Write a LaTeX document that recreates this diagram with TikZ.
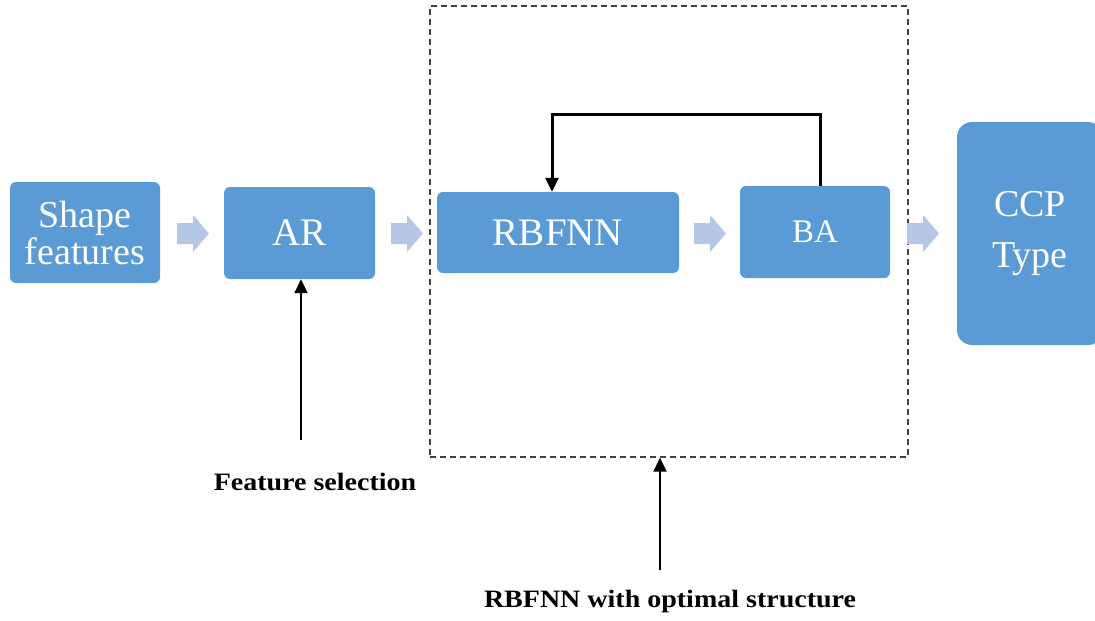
\documentclass[tikz,border=0pt]{standalone}
\usepackage{fontspec}
\setmainfont{Liberation Serif}
\usetikzlibrary{arrows.meta}
\definecolor{boxblue}{HTML}{5B9BD5}
\definecolor{chev}{HTML}{B4C7E7}
\definecolor{dashgray}{HTML}{404040}
\begin{document}
\begin{tikzpicture}[x=1pt,y=-1pt,
  blk/.style={fill=boxblue, rounded corners=6pt, text=white, align=center, inner sep=0pt, font=\fontsize{39}{37}\selectfont},
  chevron/.style={fill=chev, draw=none},
  ptr/.style={-{Triangle[length=14pt,width=13pt]}, line width=1.9pt, black},
  lbl/.style={font=\bfseries\fontsize{25}{28}\selectfont, inner sep=0pt}]
\useasboundingbox (0,0) rectangle (1095,621);
% boxes
\node[blk, minimum width=150pt, minimum height=101pt, font=\fontsize{38}{37}\selectfont] (shape) at (85,232.5) {Shape\\features};
\node[blk, minimum width=151pt, minimum height=92pt] (ar) at (299.5,233) {AR};
\node[blk, minimum width=242pt, minimum height=81pt] (rbf) at (558,232.5) {RBFNN};
\node[blk, minimum width=150pt, minimum height=92pt, font=\fontsize{33}{35}\selectfont] (ba) at (815,232) {BA};
\begin{scope}
\clip (0,0) rectangle (1095,621);
\node[blk, rounded corners=15pt, minimum width=146pt, minimum height=223pt, font=\fontsize{38}{51}\selectfont] (ccp) at (1030,233.5) {CCP\\Type};
\end{scope}
% dashed frame
\node[draw=dashgray, dash pattern=on 6pt off 4pt, line width=1.3pt, minimum width=478pt, minimum height=451pt, inner sep=0pt] (opt) at (669,231.5) {};
% chevrons
\foreach \x in {177,391,694,907}
  \fill[chev] (\x,223) -- (\x+16,223) -- (\x+16,215) -- (\x+32,233.5) -- (\x+16,252) -- (\x+16,244) -- (\x,244) -- cycle;
% feedback
\draw[ptr, line width=3pt] ([xshift=5pt]ba.north) -- ++(0,-71) -| ([xshift=-6pt]rbf.north);
% feature selection
\coordinate (fs) at (301,440);
\draw[ptr] (fs) -- (fs |- ar.south);
\node[lbl, anchor=base] (fsl) at (315,490) {\scalebox{1.12}[1]{Feature selection}};
% optimal structure
\coordinate (os) at (660,570);
\draw[ptr] (os) -- (os |- opt.south);
\node[lbl, anchor=base] (osl) at (670,607) {\scalebox{1.12}[1]{RBFNN with optimal structure}};
\end{tikzpicture}
\end{document}
